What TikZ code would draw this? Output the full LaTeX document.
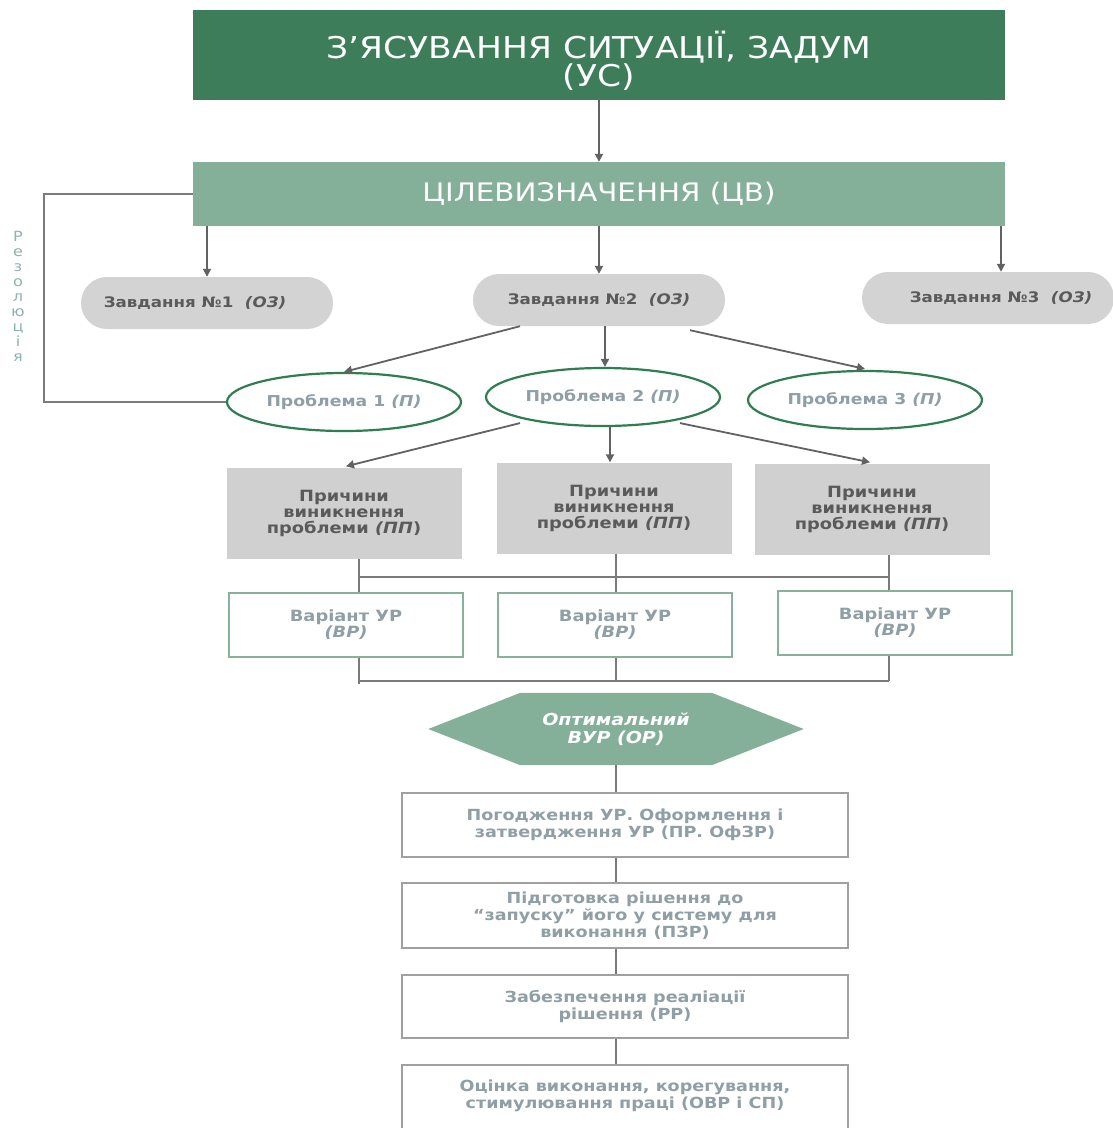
\documentclass[tikz,border=0pt]{standalone}
\usepackage{fontspec}
\setmainfont[FakeStretch=1.15]{DejaVu Sans}
\usetikzlibrary{arrows.meta,shapes.geometric,calc,backgrounds}
\definecolor{darkgreen}{HTML}{3D7D5A}
\definecolor{lightgreen}{HTML}{84B09A}
\definecolor{pillgray}{HTML}{D3D3D3}
\definecolor{causegray}{HTML}{D0D0D0}
\definecolor{darktext}{HTML}{5A5A5A}
\definecolor{elborder}{HTML}{2F7D50}
\definecolor{softtext}{HTML}{8E9FA5}
\definecolor{varborder}{HTML}{86B29C}
\definecolor{boxborder}{HTML}{A0A0A0}
\definecolor{arrowgray}{HTML}{626262}
\definecolor{linegray}{HTML}{7A7A7A}
\definecolor{resol}{HTML}{8CB3AE}
\tikzset{
  topbox/.style={rectangle, fill=darkgreen, minimum width=812pt, minimum height=90pt, inner sep=0pt},
  toptext/.style={text=white, align=center, inner sep=0pt, font=\fontsize{30}{26}\selectfont},
  cvbox/.style={rectangle, fill=lightgreen, text=white, minimum width=812pt, minimum height=64pt, align=center, inner sep=0pt, font=\fontsize{25.5}{28}\selectfont},
  pill/.style={rectangle, rounded corners=26pt, fill=pillgray, text=darktext, minimum width=252pt, minimum height=52pt, inner sep=0pt, font=\fontsize{14.5}{16}\selectfont\bfseries},
  probl/.style={ellipse, draw=elborder, line width=2.2pt, fill=white, text=softtext, minimum width=234pt, minimum height=58pt, inner sep=0pt, font=\fontsize{15}{16}\selectfont\bfseries},
  cause/.style={rectangle, fill=causegray, text=darktext, minimum width=235pt, minimum height=91pt, align=center, inner sep=0pt, font=\fontsize{15.5}{16}\selectfont\bfseries},
  variant/.style={rectangle, draw=varborder, line width=1.8pt, fill=white, text=softtext, minimum width=234pt, minimum height=64pt, align=center, inner sep=0pt, font=\fontsize{15.5}{16}\selectfont\bfseries},
  stepbox/.style={rectangle, draw=boxborder, line width=1.8pt, fill=white, text=softtext, minimum width=446pt, align=center, inner sep=0pt, font=\fontsize{15.3}{17}\selectfont\bfseries},
  hexnode/.style={rectangle, text=white, minimum width=375pt, minimum height=72pt, align=center, inner sep=0pt, font=\fontsize{16.5}{18}\selectfont\bfseries\itshape},
  arr/.style={draw=arrowgray, line width=1.8pt, -{Triangle[length=8pt,width=8pt]}},
  conn/.style={draw=linegray, line width=1.2pt},
}
\begin{document}
\begin{tikzpicture}[x=1pt,y=-1pt]
\useasboundingbox (0,0) rectangle (1112,1128);

% top
\node[topbox] (us) at (599,55) {};
\node[toptext] (ustext) at (599,61) {З’ЯСУВАННЯ СИТУАЦІЇ, ЗАДУМ\\(УС)};
\node[cvbox] (cv) at (599,194) {ЦІЛЕВИЗНАЧЕННЯ (ЦВ)};
\draw[arr] (us.south) -- (cv.north);

% tasks
\node[pill] (t1) at (207,303) {Завдання №1\ \ \textit{(ОЗ)}\hspace*{24pt}};
\node[pill] (t2) at (599,300) {Завдання №2\ \ \textit{(ОЗ)}};
\node[pill] (t3) at (988,298) {\hspace*{26pt}Завдання №3\ \ \textit{(ОЗ)}};
\draw[arr] (cv.south -| t1) -- (t1.north);
\draw[arr] (cv.south -| t2) -- (t2.north);
\draw[arr] ($(cv.south -| t3)+(13,0)$) -- ($(t3.north)+(13,0)$);

% problems
\node[probl] (p1) at (344,402) {Проблема 1 \textit{(П)}};
\node[probl] (p2) at (603,397) {Проблема 2 \textit{(П)}};
\node[probl] (p3) at (865,400) {Проблема 3 \textit{(П)}};
\draw[arr] ($(t2.south)+(-79,0)$) -- (p1.north);
\draw[arr] ($(t2.south)+(6,0)$) -- ($(p2.north)+(2,0)$);
\draw[arr] ($(t2.south)+(91,4)$) -- ($(p3.north)+(0,-1)$);

% resolution loop
\coordinate (rl) at (44,0);
\draw[conn] (cv.west) -- (cv.west -| rl) |- (p1.west);
\node[text=resol, align=center, inner sep=0pt, font=\fontsize{14}{15}\selectfont] (rez) at (18,296) {Р\\е\\з\\о\\л\\ю\\ц\\і\\я};

% causes
\node[cause] (c1) at (344,513) {Причини\\виникнення\\проблеми \textit{(ПП})};
\node[cause] (c2) at (614,508) {Причини\\виникнення\\проблеми \textit{(ПП})};
\node[cause] (c3) at (872,509) {Причини\\виникнення\\проблеми \textit{(ПП})};
\draw[arr] ($(p2.south)+(-83,-4)$) -- ($(c1.north)+(2,-1)$);
\draw[arr] ($(p2.south)+(7,0)$) -- ($(c2.north)+(-4,0)$);
\draw[arr] ($(p2.south)+(77,-4)$) -- ($(c3.north)+(-2,-1)$);

% variants
\node[variant] (v1) at (346,625) {Варіант УР\\\textit{(ВР)}};
\node[variant] (v2) at (615,625) {Варіант УР\\\textit{(ВР)}};
\node[variant] (v3) at (895,623) {Варіант УР\\\textit{(ВР)}};

\coordinate (bl) at (359,577);
\coordinate (bm) at (616,577);
\coordinate (br) at (889,577);
\draw[conn] (c1.south -| bl) -- (v1.north -| bl);
\draw[conn] (c2.south -| bm) -- (v2.north -| bm);
\draw[conn] (c3.south -| br) -- (v3.north -| br);
\draw[conn] (bl) -- (br);

\coordinate (dl) at (359,681);
\coordinate (dm) at (616,681);
\coordinate (dr) at (889,681);
\draw[conn] (v1.south -| dl) -- ($(dl)+(0,3)$);
\draw[conn] (v2.south -| dm) -- (dm);
\draw[conn] (v3.south -| dr) -- (dr);
\draw[conn] (dl) -- (dr);

% hexagon
\node[hexnode] (opt) at (616,729) {Оптимальний\\ВУР (ОР)};
\begin{pgfonlayer}{background}
\fill[lightgreen] (opt.west) -- ($(opt.north west)+(92,0)$) -- ($(opt.north east)+(-92,0)$) -- (opt.east) -- ($(opt.south east)+(-92,0)$) -- ($(opt.south west)+(92,0)$) -- cycle;
\end{pgfonlayer}

% steps
\node[stepbox, minimum height=64pt] (s1) at (625,825) {Погодження УР. Оформлення і\\затвердження УР (ПР. ОфЗР)};
\node[stepbox, minimum height=65pt] (s2) at (625,915.5) {Підготовка рішення до\\“запуску” його у систему для\\виконання (ПЗР)};
\node[stepbox, minimum height=63pt] (s3) at (625,1006.5) {Забезпечення реаліації\\рішення (РР)};
\node[stepbox, minimum height=76pt] (s4) at (625,1103) {};
\node[text=softtext, align=center, inner sep=0pt, font=\fontsize{15.3}{17}\selectfont\bfseries] (s4t) at (625,1096) {Оцінка виконання, корегування,\\стимулювання праці (ОВР і СП)};

\draw[conn] (opt.south) -- (s1.north -| opt.south);
\draw[conn] (s1.south -| opt.south) -- (s2.north -| opt.south);
\draw[conn] (s2.south -| opt.south) -- (s3.north -| opt.south);
\draw[conn] (s3.south -| opt.south) -- (s4.north -| opt.south);
\end{tikzpicture}
\end{document}
